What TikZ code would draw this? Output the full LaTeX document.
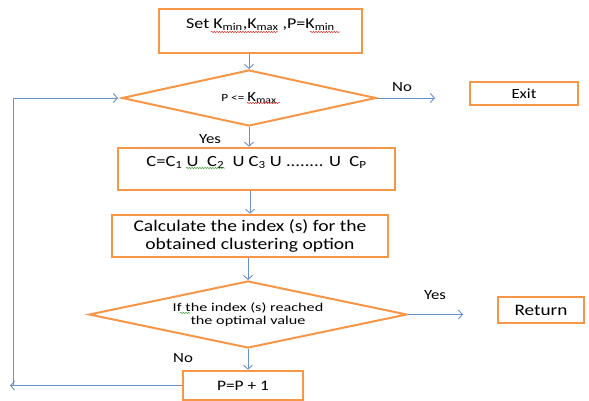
\documentclass[tikz,border=0pt]{standalone}
\usepackage{fontspec}
\setmainfont{Carlito}[FakeStretch=1.2]
\newfontfamily\widefont{Carlito}[FakeStretch=1.35]
\usetikzlibrary{shapes.geometric,arrows.meta,decorations.pathmorphing}
\definecolor{boxorange}{HTML}{F79646}
\definecolor{flowblue}{HTML}{6A91CC}
\definecolor{spellred}{HTML}{E03030}
\definecolor{spellgreen}{HTML}{3FA03F}
\newcommand\lowidx[1]{\textsubscript{#1}}
\begin{document}
\begin{tikzpicture}[x=1pt,y=-1pt,
  stepbox/.style={draw=boxorange, line width=2.6pt, inner sep=0pt, align=center},
  decision/.style={diamond, draw=boxorange, line width=2pt, inner sep=0pt, align=center},
  flow/.style={draw=flowblue, line width=0.9pt,
    -{Straight Barb[length=4pt,width=9pt,line width=0.9pt]}},
  lbl/.style={inner sep=0pt, font=\fontsize{14}{16}\selectfont},
  spell/.style={line width=0.5pt, decorate,
    decoration={snake, amplitude=0.7pt, segment length=2.6pt}}
]
\useasboundingbox (0,0) rectangle (589,401);

% process boxes and decisions
\node[stepbox, minimum width=203pt, minimum height=44pt, text height=10pt, text depth=15pt,
  font=\fontsize{15}{17}\selectfont] (setk) at (260.5,31)
  {Set K\lowidx{min},K\lowidx{max} ,P=K\lowidx{min}};

\node[decision, aspect=4.5, minimum width=254pt, minimum height=56pt,
  font=\fontsize{14}{16}\selectfont] (d1) at (249,98)
  {{\fontsize{11}{12}\selectfont P <= }K\lowidx{max}};

\node[stepbox, minimum width=108pt, minimum height=23pt,
  font=\fontsize{14}{16}\selectfont] (exit) at (524,93.5) {Exit};

\node[stepbox, minimum width=277pt, minimum height=42pt, text height=10pt, text depth=16pt,
  font=\fontsize{15.5}{17}\selectfont] (union) at (256.5,169)
  {C=C\lowidx{1} U\ \ C\lowidx{2}\ \ U C\lowidx{3} U ........ U\ \ C\lowidx{P}};

\node[stepbox, minimum width=276pt, minimum height=42pt,
  font=\fontsize{16.3}{18}\selectfont] (calc) at (250,236)
  {Calculate the index (s) for the\\obtained clustering option};

\node[decision, aspect=4.75, minimum width=318pt, minimum height=67pt,
  font=\widefont\fontsize{12}{13.5}\selectfont] (d2) at (248,314.5)
  {If the index (s) reached\\the optimal value};

\node[stepbox, minimum width=86pt, minimum height=26pt,
  font=\fontsize{16}{18}\selectfont] (ret) at (541,310) {Return};

\node[stepbox, minimum width=120pt, minimum height=29pt,
  font=\fontsize{14.5}{16}\selectfont] (inc) at (243,385.5) {P=P + 1};

% branch labels
\node[lbl] (yes1) at (210,139) {Yes};
\node[lbl] (no1) at (402,87) {No};
\node[lbl] (yes2) at (435,295) {Yes};
\node[lbl] (no2) at (183,358) {No};

% free ends of the connectors
\coordinate (noend) at (435,98);
\coordinate (yesend) at (463,314.5);
\coordinate (loopend) at (10,385.5);
\coordinate (loopup) at (13,385.5);

% connectors
\draw[flow] (d1.north |- setk.south) -- (d1.north);
\draw[flow] (d1.south) -- (d1.south |- union.north);
\draw[flow] (calc.north |- union.south) -- (calc.north);
\draw[flow] (d2.north |- calc.south) -- (d2.north);
\draw[flow] (d2.south) -- (d2.south |- inc.north);
\draw[flow] (d1.east) -- (d1.east -| noend);
\draw[flow] (d2.east) -- (d2.east -| yesend);
\draw[flow] (inc.west) -- (loopend);
\draw[flow, shorten >=3pt] (loopup) |- (d1.west);

% spell-check underlines
\draw[spell, draw=spellred] (211,32) -- (278,32);
\draw[spell, draw=spellred] (310,32) -- (340,32);
\draw[spell, draw=spellred] (247,103) -- (280,103);
\draw[spell, draw=spellgreen] (186,168) -- (225,168);
\draw[spell, draw=spellgreen] (180,313) -- (190,313);
\end{tikzpicture}
\end{document}
